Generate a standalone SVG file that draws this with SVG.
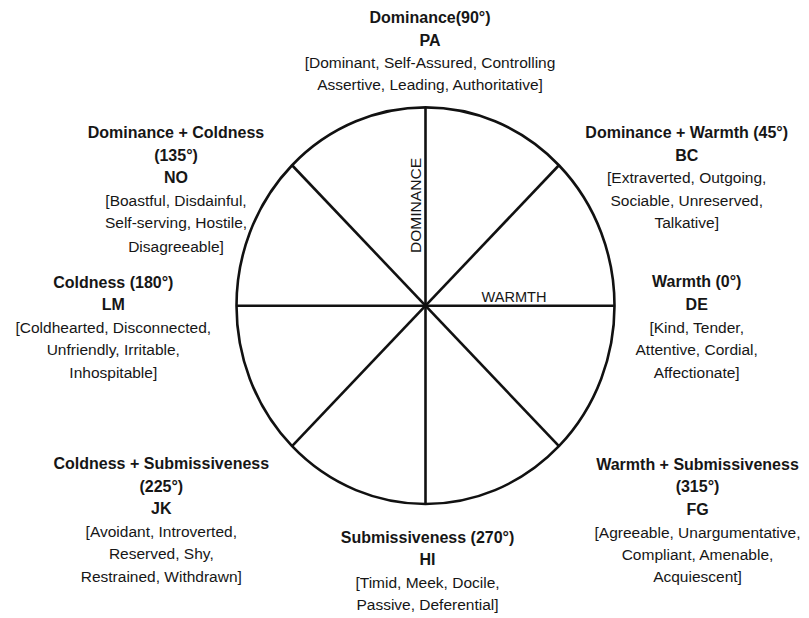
<svg xmlns="http://www.w3.org/2000/svg" width="809" height="618" viewBox="0 0 809 618">
<style>
text{font-family:"Liberation Sans",Arial,sans-serif;fill:#161616;text-anchor:middle}
.b{font-weight:bold;font-size:16px}
.r{font-size:15.5px}
.ax{font-size:14px}
.ln{stroke:#111;stroke-width:2.6;fill:none}
</style>
<rect width="809" height="618" fill="#fff"/>
<g id="wheel">
<ellipse class="ln" cx="425.5" cy="305.7" rx="189" ry="198.3" stroke-width="3"/>
</g>
<g id="connectors">
<line class="ln" x1="425.5" y1="107.4" x2="425.5" y2="504"/>
<line class="ln" x1="236.5" y1="305.7" x2="614.5" y2="305.7"/>
<line class="ln" x1="292.3" y1="165.5" x2="558.7" y2="445.9"/>
<line class="ln" x1="292.3" y1="445.9" x2="558.7" y2="165.5"/>
</g>
<g id="axis-labels">
<text class="ax" transform="translate(421,205.5) rotate(-90)" textLength="95" lengthAdjust="spacingAndGlyphs">DOMINANCE</text>
<text class="ax" x="514" y="301.7" textLength="65" lengthAdjust="spacingAndGlyphs">WARMTH</text>
</g>
<g id="node-PA">
<text class="b" x="430" y="23">Dominance(90°)</text>
<text class="b" x="430" y="46">PA</text>
<text class="r" x="430" y="68">[Dominant, Self-Assured, Controlling</text>
<text class="r" x="430" y="90">Assertive, Leading, Authoritative]</text>
</g>
<g id="node-NO">
<text class="b" x="176" y="138.3">Dominance + Coldness</text>
<text class="b" x="176" y="160.7">(135°)</text>
<text class="b" x="176" y="183.3">NO</text>
<text class="r" x="176" y="205.5">[Boastful, Disdainful,</text>
<text class="r" x="176" y="228.3">Self-serving, Hostile,</text>
<text class="r" x="176" y="251.5">Disagreeable]</text>
</g>
<g id="node-LM">
<text class="b" x="113.3" y="287.7">Coldness (180°)</text>
<text class="b" x="113.3" y="310">LM</text>
<text class="r" x="113.3" y="332.7">[Coldhearted, Disconnected,</text>
<text class="r" x="113.3" y="355.3">Unfriendly, Irritable,</text>
<text class="r" x="113.3" y="378">Inhospitable]</text>
</g>
<g id="node-BC">
<text class="b" x="686.7" y="138.3">Dominance + Warmth (45°)</text>
<text class="b" x="686.7" y="160.7">BC</text>
<text class="r" x="686.7" y="183.3">[Extraverted, Outgoing,</text>
<text class="r" x="686.7" y="205.7">Sociable, Unreserved,</text>
<text class="r" x="686.7" y="228.3">Talkative]</text>
</g>
<g id="node-DE">
<text class="b" x="696.7" y="287.3">Warmth (0°)</text>
<text class="b" x="696.7" y="310">DE</text>
<text class="r" x="696.7" y="332.7">[Kind, Tender,</text>
<text class="r" x="696.7" y="355.3">Attentive, Cordial,</text>
<text class="r" x="696.7" y="378">Affectionate]</text>
</g>
<g id="node-JK">
<text class="b" x="161.3" y="469.3">Coldness + Submissiveness</text>
<text class="b" x="161.3" y="491.7">(225°)</text>
<text class="b" x="161.3" y="514">JK</text>
<text class="r" x="161.3" y="536.7">[Avoidant, Introverted,</text>
<text class="r" x="161.3" y="559.3">Reserved, Shy,</text>
<text class="r" x="161.3" y="581.7">Restrained, Withdrawn]</text>
</g>
<g id="node-FG">
<text class="b" x="697.5" y="470">Warmth + Submissiveness</text>
<text class="b" x="697.5" y="492.3">(315°)</text>
<text class="b" x="697.5" y="514.7">FG</text>
<text class="r" x="697.5" y="537.5">[Agreeable, Unargumentative,</text>
<text class="r" x="697.5" y="560">Compliant, Amenable,</text>
<text class="r" x="697.5" y="582">Acquiescent]</text>
</g>
<g id="node-HI">
<text class="b" x="427.5" y="543.3">Submissiveness (270°)</text>
<text class="b" x="427.5" y="565">HI</text>
<text class="r" x="427.5" y="587.5">[Timid, Meek, Docile,</text>
<text class="r" x="427.5" y="609.5">Passive, Deferential]</text>
</g>
</svg>
